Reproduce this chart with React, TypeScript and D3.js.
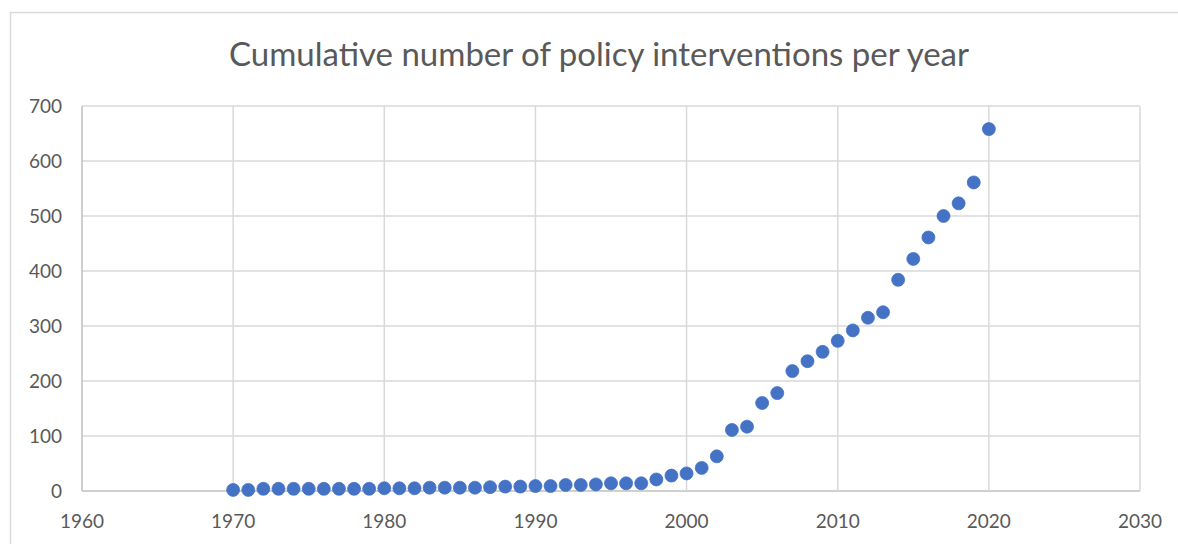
import React, { useEffect, useRef } from "react";
import * as d3 from "d3";

const years = d3.range(1970, 2021);
const counts = [
  2, 2, 4, 4, 4, 4, 4, 4, 4, 4,
  5, 5, 5, 6, 6, 6, 6, 7, 8, 8,
  9, 9, 11, 11, 12, 14, 14, 14, 21, 28,
  32, 42, 63, 111, 117, 160, 178, 218, 236, 253,
  273, 292, 315, 325, 384, 422, 461, 500, 523, 561,
  658,
];
const xTicks = [1960, 1970, 1980, 1990, 2000, 2010, 2020, 2030];
const yTicks = [0, 100, 200, 300, 400, 500, 600, 700];
const title = "Cumulative number of policy interventions per year";

const W = 1178;
const H = 544;
const margin = { top: 106, right: 38, bottom: 53, left: 82 };

const App = () => {
  const ref = useRef<SVGSVGElement>(null);

  useEffect(() => {
    const svg = d3.select(ref.current);
    svg.selectAll("*").remove();

    const width = W - margin.left - margin.right;
    const height = H - margin.top - margin.bottom;
    const font = "Lato, 'Open Sans', sans-serif";

    // outer chart border
    svg
      .append("rect")
      .attr("x", 10.5)
      .attr("y", 12.5)
      .attr("width", W)
      .attr("height", H)
      .style("fill", "white")
      .style("stroke", "#d9d9d9")
      .style("stroke-width", 1.5);

    svg
      .append("text")
      .attr("x", 599)
      .attr("y", 66)
      .style("font-family", font)
      .style("font-size", "33px")
      .style("fill", "#595959")
      .style("text-anchor", "middle")
      .text(title);

    const g = svg
      .append("g")
      .attr("transform", `translate(${margin.left},${margin.top})`);

    const x = d3.scaleLinear().domain([1960, 2030]).range([0, width]);
    const y = d3.scaleLinear().domain([0, 700]).range([height, 0]);

    // gridlines
    g.append("g")
      .selectAll("line")
      .data(yTicks)
      .join("line")
      .attr("x1", 0)
      .attr("x2", width)
      .attr("y1", (d) => y(d))
      .attr("y2", (d) => y(d))
      .style("stroke", (d) => (d === 0 ? "#bfbfbf" : "#d9d9d9"))
      .style("stroke-width", 1.5);

    g.append("g")
      .selectAll("line")
      .data(xTicks)
      .join("line")
      .attr("x1", (d) => x(d))
      .attr("x2", (d) => x(d))
      .attr("y1", 0)
      .attr("y2", height)
      .style("stroke", (d) => (d === 1960 ? "#bfbfbf" : "#d9d9d9"))
      .style("stroke-width", 1.5);

    // tick labels
    g.append("g")
      .selectAll("text")
      .data(yTicks)
      .join("text")
      .attr("x", -20)
      .attr("y", (d) => y(d))
      .attr("dy", "0.35em")
      .style("font-family", font)
      .style("font-size", "19px")
      .style("fill", "#595959")
      .style("text-anchor", "end")
      .text((d) => d);

    g.append("g")
      .selectAll("text")
      .data(xTicks)
      .join("text")
      .attr("x", (d) => x(d))
      .attr("y", height + 37)
      .style("font-family", font)
      .style("font-size", "19px")
      .style("fill", "#595959")
      .style("text-anchor", "middle")
      .text((d) => d);

    // points
    g.append("g")
      .selectAll("circle")
      .data(years)
      .join("circle")
      .attr("cx", (d) => x(d))
      .attr("cy", (d, i) => y(counts[i]))
      .attr("r", 6.5)
      .style("fill", "#4472c4")
      .style("stroke", "#4472c4")
      .style("stroke-width", 0.75);
  }, []);

  return (
    <svg
      ref={ref}
      width={W}
      height={H}
      style={{ position: "absolute", left: 0, top: 0, background: "white" }}
    />
  );
};

export default App;
